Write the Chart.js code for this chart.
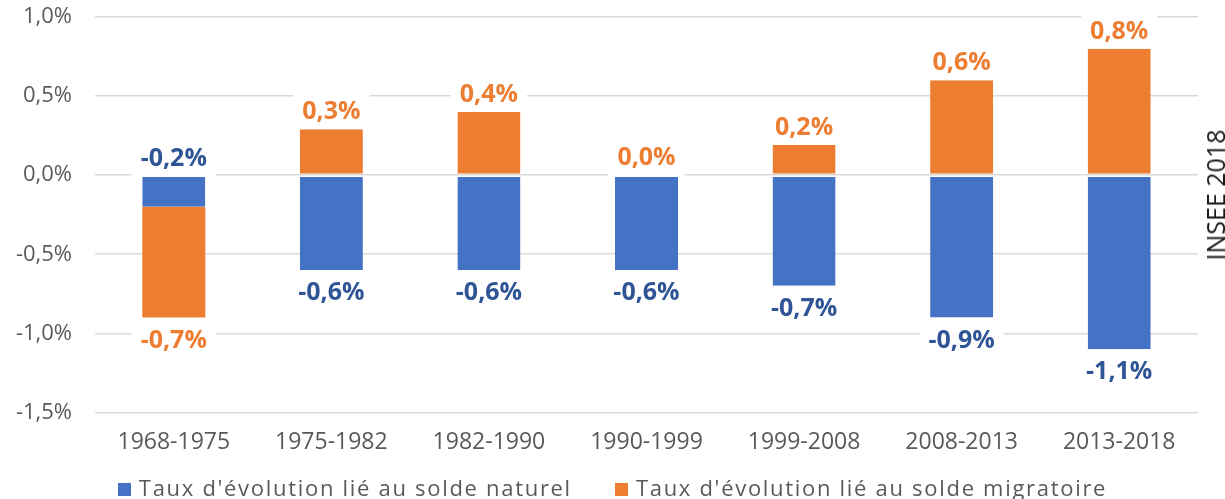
<!DOCTYPE html>
<html><head><meta charset="utf-8">
<script src="https://cdn.jsdelivr.net/npm/chart.js@4.4.1/dist/chart.umd.min.js"></script>
<style>
html,body{margin:0;padding:0;background:#fff;overflow:hidden;width:1225px;height:499px}
#wrap{position:absolute;left:0;top:0;width:1225px;height:499px}
#src{position:absolute;left:1215px;top:195px;transform:translate(-50%,-50%) rotate(-90deg);font:25px 'Open Sans',sans-serif;color:#1a1a1a;white-space:nowrap}
#legend{position:absolute;left:0;top:474px;width:1225px;display:flex;justify-content:center;gap:43px;font:22px 'Open Sans',sans-serif;letter-spacing:1.7px;color:#595959;line-height:26px;white-space:nowrap}
#legend .item{display:flex;align-items:flex-start}
#legend .box{width:13px;height:13px;margin-top:9px;margin-right:8px;flex:none}
</style></head><body>
<div id="wrap"><canvas id="c" width="1225" height="499"></canvas></div>
<div id="src">INSEE 2018</div>
<div id="legend"></div>
<script>
const categories = ['1968-1975','1975-1982','1982-1990','1990-1999','1999-2008','2008-2013','2013-2018'];
const soldeNaturel = [-0.2, -0.6, -0.6, -0.6, -0.7, -0.9, -1.1];
const soldeMigratoire = [-0.7, 0.29, 0.4, 0.0, 0.19, 0.6, 0.8];
const seriesNames = ["Taux d'évolution lié au solde naturel", "Taux d'évolution lié au solde migratoire"];
const yTicks = [-1.5, -1.0, -0.5, 0.0, 0.5, 1.0];

const fmt = v => (Math.abs(v) < 1e-9 ? 0 : v).toFixed(1).replace('.', ',') + '%';
const LABEL_FONT = "bold 25px 'Open Sans', sans-serif";
const labelColors = ['#2F5597', '#ED7D31'];

function labelItems(chart) {
  const out = [];
  const dsets = chart.data.datasets;
  const ctx = chart.ctx;
  const zeroY = chart.scales.y.getPixelForValue(0);
  ctx.save();
  ctx.font = LABEL_FONT;
  dsets.forEach((ds, i) => {
    const meta = chart.getDatasetMeta(i);
    meta.data.forEach((el, j) => {
      const v = ds.data[j];
      const neg = v < 0;
      const outer = !dsets.some((d, k) => k > i && d.data[j] !== 0 && ((d.data[j] < 0) === neg));
      const p = el.getProps(['x', 'y', 'base'], true);
      let y;
      if (v === 0) y = zeroY - 17;
      else if (neg) y = outer ? p.y + 23 : p.base - 17;
      else y = outer ? p.y - 17 : p.base + 23;
      const text = fmt(v);
      out.push({x: p.x, y, text, w: ctx.measureText(text).width, color: labelColors[i]});
    });
  });
  ctx.restore();
  return out;
}

const labelPlugin = {
  id: 'barLabels',
  beforeDatasetsDraw(chart) {
    const ctx = chart.ctx;
    ctx.save();
    ctx.fillStyle = '#ffffff';
    labelItems(chart).forEach(it => {
      ctx.fillRect(it.x - it.w / 2 - 9, it.y - 20, it.w + 18, 40);
    });
    ctx.restore();
  },
  afterDatasetsDraw(chart) {
    const ctx = chart.ctx;
    ctx.save();
    ctx.font = LABEL_FONT;
    ctx.textAlign = 'center';
    ctx.textBaseline = 'middle';
    labelItems(chart).forEach(it => {
      ctx.fillStyle = it.color;
      ctx.fillText(it.text, it.x, it.y);
    });
    ctx.restore();
  }
};

// thin gap only on the side of a bar that sits on the zero line
function zeroSideBorder(c) {
  const dsets = c.chart.data.datasets;
  const v = c.raw;
  const neg = v < 0;
  const onZero = !dsets.some((d, k) => k < c.datasetIndex && d.data[c.dataIndex] !== 0 && ((d.data[c.dataIndex] < 0) === neg));
  if (!onZero || v === 0) return 0;
  return neg ? {top: 1, bottom: 0, left: 0, right: 0} : {top: 0, bottom: 1, left: 0, right: 0};
}

const barStyle = {
  stack: 's',
  borderWidth: zeroSideBorder,
  borderColor: 'rgba(255,255,255,0)',
  borderSkipped: false
};

const chart = new Chart(document.getElementById('c'), {
  type: 'bar',
  data: {
    labels: categories,
    datasets: [
      Object.assign({label: seriesNames[0], data: soldeNaturel, backgroundColor: '#4472C4'}, barStyle),
      Object.assign({label: seriesNames[1], data: soldeMigratoire, backgroundColor: '#ED7D31'}, barStyle)
    ]
  },
  options: {
    responsive: false,
    devicePixelRatio: 1,
    animation: false,
    layout: {padding: {top: 17, right: 27, left: 0, bottom: 27}},
    datasets: {bar: {barPercentage: 0.4, categoryPercentage: 1.0}},
    scales: {
      x: {
        stacked: true,
        grid: {display: false, drawTicks: false},
        border: {display: false},
        ticks: {color: '#595959', font: {family: "'Open Sans', sans-serif", size: 23}, padding: 16, maxRotation: 0, autoSkip: false}
      },
      y: {
        stacked: true,
        min: yTicks[0],
        max: yTicks[yTicks.length - 1],
        afterBuildTicks: s => { s.ticks = yTicks.map(v => ({value: v})); },
        grid: {color: '#d9d9d9', lineWidth: 1.5, drawTicks: true, tickLength: 23, tickColor: 'rgba(0,0,0,0)'},
        border: {display: false},
        ticks: {color: '#595959', font: {family: "'Open Sans', sans-serif", size: 22}, padding: 0, callback: v => fmt(v)},
        afterFit: s => { s.width = 95; }
      }
    },
    plugins: {
      legend: {display: false},
      tooltip: {enabled: false}
    }
  },
  plugins: [labelPlugin]
});

// HTML legend built from the library's own legend items
const legendEl = document.getElementById('legend');
chart.options.plugins.legend.labels.generateLabels(chart).forEach(item => {
  const d = document.createElement('div');
  d.className = 'item';
  const b = document.createElement('span');
  b.className = 'box';
  b.style.background = item.fillStyle;
  const t = document.createElement('span');
  t.textContent = item.text;
  d.appendChild(b); d.appendChild(t);
  legendEl.appendChild(d);
});
</script>
</body></html>
